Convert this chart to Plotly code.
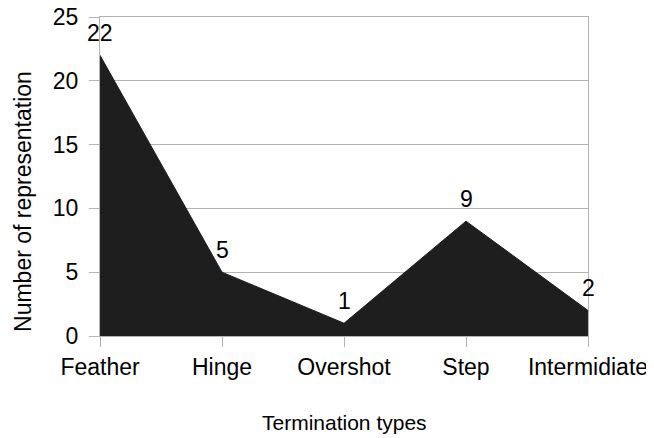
import plotly.graph_objects as go

tipos = ["Feather", "Hinge", "Overshot", "Step", "Intermidiate"]
conteos = [22, 5, 1, 9, 2]
ticks_y = [0, 5, 10, 15, 20, 25]

FUENTE = "Liberation Sans, Arial"
GRIS = "#b3b3b3"

fig = go.Figure()

# --- Área rellena ---
fig.add_trace(go.Scatter(
    x=tipos,
    y=conteos,
    mode="lines",
    fill="tozeroy",
    fillcolor="#1e1e1e",
    line=dict(color="#1e1e1e", width=1),
    showlegend=False,
    hoverinfo="skip",
))

# --- Etiquetas de valores ---
for t, v in zip(tipos, conteos):
    fig.add_annotation(
        x=t, y=v, text=str(v),
        showarrow=False, yanchor="middle", yshift=22,
        font=dict(family=FUENTE, size=23, color="#000000"),
    )

# --- Títulos de ejes ---
fig.add_annotation(
    text="Termination types", xref="paper", yref="paper",
    x=0.5, y=-0.27, showarrow=False, xanchor="center", yanchor="middle",
    font=dict(family=FUENTE, size=21, color="#000000"),
)
fig.add_annotation(
    text="Number of representation", xref="paper", yref="paper",
    x=-0.158, y=0.423, showarrow=False, textangle=-90,
    xanchor="center", yanchor="middle",
    font=dict(family=FUENTE, size=23, color="#000000"),
)

fig.update_xaxes(
    range=[0, 4],
    automargin=False,
    showgrid=False,
    showline=True, linecolor=GRIS, linewidth=1, mirror=True,
    ticks="outside", ticklen=10, tickcolor=GRIS,
    tickfont=dict(family=FUENTE, size=23, color="#000000"),
)
fig.update_yaxes(
    range=[0, 25],
    automargin=False,
    tickvals=ticks_y,
    showgrid=True, gridcolor=GRIS, gridwidth=1,
    showline=True, linecolor=GRIS, linewidth=1, mirror=True,
    zeroline=False,
    ticks="outside", ticklen=10, tickcolor=GRIS,
    ticklabelstandoff=6, ticklabeloverflow="allow",
    tickfont=dict(family=FUENTE, size=23, color="#000000"),
)

# la página añade 8 px de margen al cuerpo
fig.update_layout(
    width=646, height=430,
    paper_bgcolor="#ffffff",
    plot_bgcolor="#ffffff",
    margin=dict(l=92, r=66, t=9, b=102),
)

fig.write_html("out.html")
